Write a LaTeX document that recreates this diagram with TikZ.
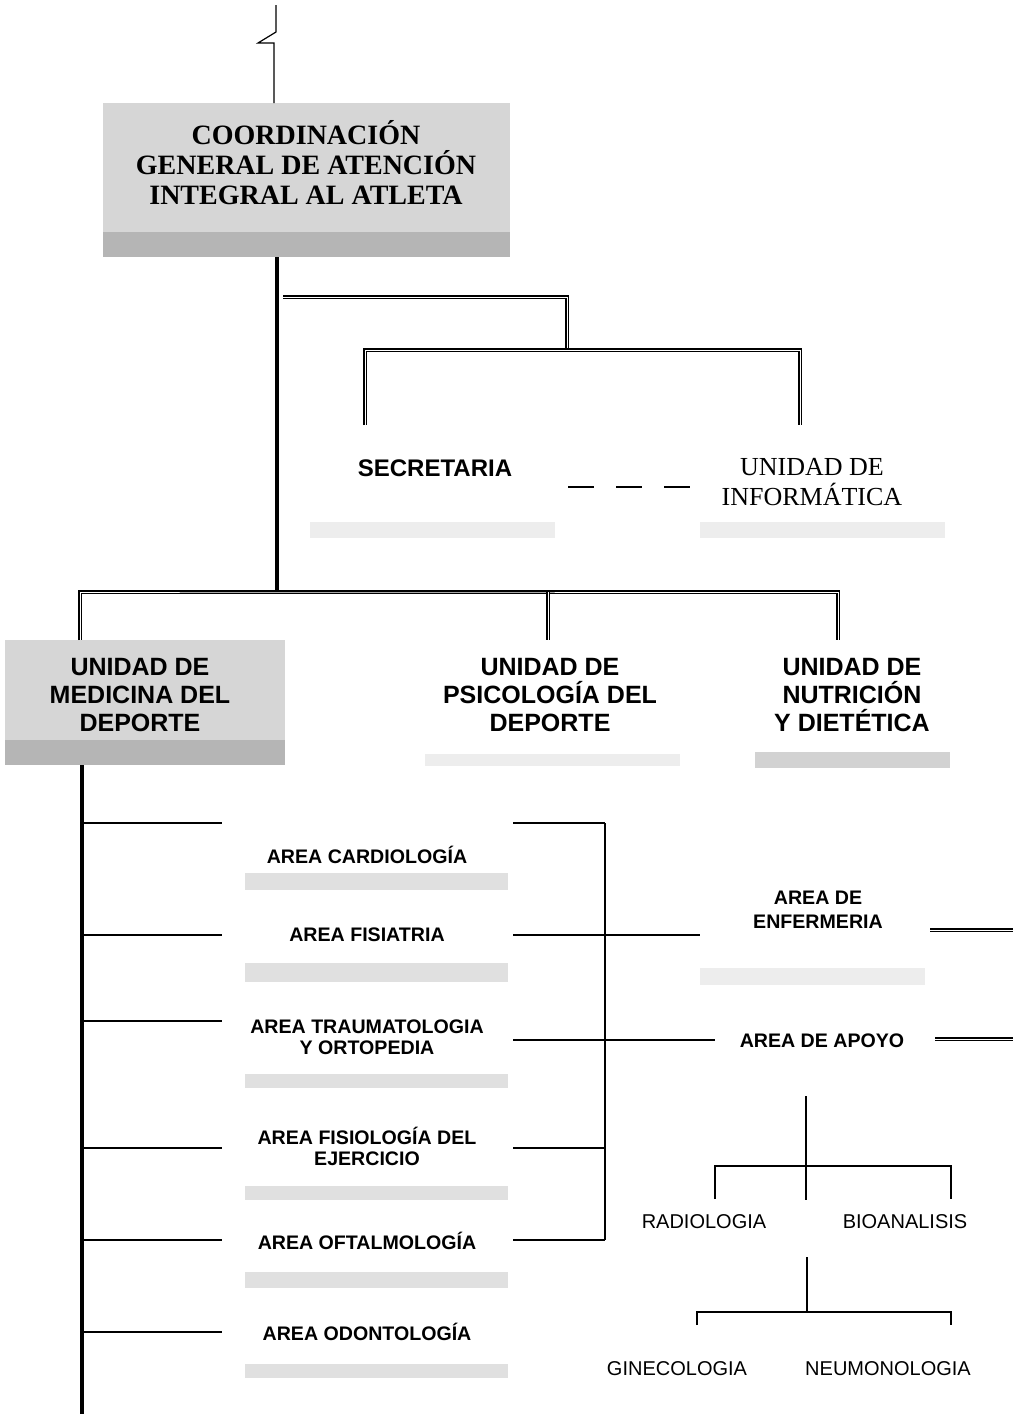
\documentclass[tikz,border=0pt]{standalone}
\usepackage{fontspec}
\setmainfont{Liberation Serif}
\newfontfamily\arialf{Liberation Sans}
\usetikzlibrary{positioning}

\tikzset{
  headtxt/.style={font=\bfseries\fontsize{14}{15}\selectfont, align=center, inner sep=0pt},
  unitxt/.style={font=\arialf\bfseries\fontsize{12.5}{14}\selectfont, align=center, inner sep=0pt},
  areatxt/.style={font=\arialf\bfseries\fontsize{9.8}{10.5}\selectfont, align=center, inner sep=0pt},
  subtxt/.style={font=\arialf\fontsize{10}{12}\selectfont, inner sep=0pt},
  link/.style={line width=0.6pt},
  trunk/.style={line width=1.6pt},
  dbl/.style={double, double distance=0.35pt, line width=0.6pt},
  faintbar/.style={fill=gray!14, draw=none},
  shadebox/.style={fill=gray!32, draw=none},
  shadowbar/.style={fill=gray!58, draw=none}
}

\begin{document}
\begin{tikzpicture}[x=0.5pt, y=-0.5pt]
  \useasboundingbox (0,0) rectangle (1013,1414);
  % shaded boxes
  \fill[shadebox] (103,103) rectangle (510,236); \fill[shadowbar] (103,232) rectangle (510,257);
  \fill[shadebox] (5,640) rectangle (285,744); \fill[shadowbar] (5,740) rectangle (285,765);
  % faint bars
  \fill[faintbar] (310,522) rectangle (555,538); \fill[faintbar] (700,522) rectangle (945,538);
  \fill[faintbar] (425,754) rectangle (680,766); \fill[gray!35] (755,752) rectangle (950,768);
  \foreach \ya/\yb in {873/890, 963/982, 1074/1088, 1186/1200, 1272/1288, 1364/1378}
    \fill[gray!24] (245,\ya) rectangle (508,\yb);
  \fill[faintbar] (700,968) rectangle (925,985);

  % texts
  \node[headtxt] (coord) at (306,163) {COORDINACIÓN\\GENERAL DE ATENCIÓN\\INTEGRAL AL ATLETA};
  \node[unitxt, font=\arialf\bfseries\fontsize{12}{14}\selectfont] (sec) at (435,468) {SECRETARIA};
  \node[font=\fontsize{13}{15}\selectfont, align=center, inner sep=0pt] (info) at (812,482) {UNIDAD DE\\INFORMÁTICA};
  \node[unitxt] (med) at (140,695) {UNIDAD DE\\MEDICINA DEL\\DEPORTE};
  \node[unitxt] (psi) at (550,695) {UNIDAD DE\\PSICOLOGÍA DEL\\DEPORTE};
  \node[unitxt] (nut) at (852,695) {UNIDAD DE\\NUTRICIÓN\\Y DIETÉTICA};
  \node[areatxt] (card) at (367,855) {AREA CARDIOLOGÍA};
  \node[areatxt] (fis) at (367,935) {AREA FISIATRIA};
  \node[areatxt] (trau) at (367,1037) {AREA TRAUMATOLOGIA\\Y ORTOPEDIA};
  \node[areatxt] (fisio) at (367,1146) {AREA FISIOLOGÍA DEL\\EJERCICIO};
  \node[areatxt] (oft) at (367,1241) {AREA OFTALMOLOGÍA};
  \node[areatxt] (odo) at (367,1332) {AREA ODONTOLOGÍA};
  \node[areatxt, font=\arialf\bfseries\fontsize{9.8}{12}\selectfont] (enf) at (818,910) {AREA DE\\ENFERMERIA};
  \node[areatxt] (apo) at (822,1041) {AREA DE APOYO};
  \node[subtxt] (rad) at (704,1222) {RADIOLOGIA};
  \node[subtxt] (bio) at (905,1222) {BIOANALISIS};
  \node[subtxt] (gin) at (677,1369) {GINECOLOGIA};
  \node[subtxt] (neu) at (888,1369) {NEUMONOLOGIA};

  % top and main trunk
  \coordinate (in) at (276,5);
  \draw[link] (in) -- (276,32) -- (258,43) -- (274,43) -- (274,103);
  \coordinate (bus) at (277,592);
  \draw[trunk] (277,257) -- (bus);
  % staff branch
  \draw[dbl] (283,297) -| (567,350);
  \draw[dbl] (365,425) |- (800,350) -- (800,425);
  \draw[link, dash pattern=on 13pt off 11pt] (568,487) -- (692,487);
  % units
  \draw[dbl] (80,640) |- (bus) -| (838,640);
  \draw[dbl] (548,592) -- (548,640);
  % areas of medicine
  \draw[trunk] (82,765) -- (82,1414);
  \foreach \y in {823,935,1021,1148,1240,1332}
    \draw[link] (82,\y) -- (222,\y);
  \foreach \y in {823,935,1040,1148,1240}
    \draw[link] (513,\y) -- (605,\y);
  \draw[link] (605,823) -- (605,1240);
  \draw[link] (605,935) -- (700,935);
  \draw[link] (605,1040) -- (715,1040);
  \draw[dbl] (930,930) -- (1013,930);
  \draw[dbl] (935,1039) -- (1013,1039);
  % support area
  \draw[link] (806,1096) -- (806,1200);
  \draw[link] (715,1199) |- (951,1166) -- (951,1199);
  \draw[link] (807,1257) -- (807,1312);
  \draw[link] (697,1325) |- (951,1312) -- (951,1325);
\end{tikzpicture}
\end{document}
